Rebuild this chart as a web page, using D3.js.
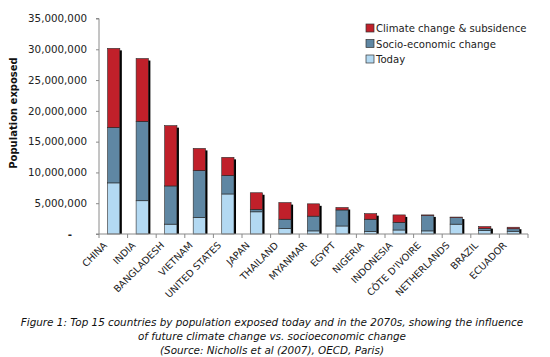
<!DOCTYPE html>
<html>
<head>
<meta charset="utf-8">
<script src="https://cdn.jsdelivr.net/npm/d3@7"></script>
<style>
  html, body { margin: 0; padding: 0; background: #fff; }
  svg { display: block; font-family: "DejaVu Sans", Verdana, sans-serif; }
</style>
</head>
<body>
<svg id="chart" width="550" height="357"></svg>
<script>
const countries = ["CHINA","INDIA","BANGLADESH","VIETNAM","UNITED STATES","JAPAN","THAILAND","MYANMAR","EGYPT","NIGERIA","INDONESIA","CÔTE D'IVOIRE","NETHERLANDS","BRAZIL","ECUADOR"];
// cumulative levels (stack tops), millions
const today        = [8.3, 5.4, 1.6, 2.7, 6.5, 3.6, 0.9, 0.5, 1.3, 0.4, 0.65, 0.5, 1.6, 0.55, 0.45];
const socioTop     = [17.3, 18.3, 7.8, 10.3, 9.5, 4.0, 2.4, 2.9, 3.9, 2.4, 1.9, 3.0, 2.65, 0.9, 0.85];
const climateTop   = [30.15, 28.5, 17.6, 13.9, 12.45, 6.7, 5.1, 4.9, 4.3, 3.3, 3.1, 3.1, 2.75, 1.2, 1.1];
const seriesNames  = ["Climate change & subsidence", "Socio-economic change", "Today"];
const seriesColors = ["#C0202A", "#5F87A3", "#B3D9F2"];
const yTicks = [0, 5, 10, 15, 20, 25, 30, 35];
const captionLines = [
  "Figure 1: Top 15 countries by population exposed today and in the 2070s, showing the influence",
  "of future climate change vs. socioeconomic change",
  "(Source: Nicholls et al (2007), OECD, Paris)"
];

const M = 1e6;
const svg = d3.select("#chart");
const x0 = 99, x1 = 528, yBase = 234, yTop = 18.5;

const x = d3.scaleBand().domain(countries).range([x0, x1]).paddingInner(0.57).paddingOuter(0.3);
const y = d3.scaleLinear().domain([0, 35 * M]).range([yBase, yTop]);

const rows = countries.map((c, i) => ({
  c,
  segs: [
    [0, today[i], 2],
    [today[i], socioTop[i], 1],
    [socioTop[i], climateTop[i], 0]
  ]
}));

// shadows
svg.append("g").selectAll("rect").data(rows).join("rect")
  .attr("x", d => x(d.c) + 2)
  .attr("y", (d, i) => y(climateTop[i] * M) + 2)
  .attr("width", x.bandwidth())
  .attr("height", (d, i) => yBase - y(climateTop[i] * M) - 2)
  .attr("fill", "#000");

// segments
const g = svg.append("g");
rows.forEach(r => {
  g.selectAll(null).data(r.segs.filter(s => s[1] > s[0])).join("rect")
    .attr("x", x(r.c))
    .attr("y", s => y(s[1] * M))
    .attr("width", x.bandwidth())
    .attr("height", s => y(s[0] * M) - y(s[1] * M))
    .attr("fill", s => seriesColors[s[2]])
    .attr("stroke", "#2a2a2a")
    .attr("stroke-width", 0.6);
});

// y axis
const yAxis = d3.axisLeft(y).tickValues(yTicks.map(v => v * M)).tickSize(3).tickPadding(9)
  .tickFormat(v => v === 0 ? "-" : d3.format(",")(v));
const ya = svg.append("g").attr("transform", `translate(${x0},0)`).call(yAxis);
ya.select(".domain").attr("stroke", "#8a8a8a").attr("d", `M-3,${yTop}H0V${yBase}H-3`);
ya.selectAll(".tick line").attr("stroke", "#8a8a8a");
ya.selectAll(".tick text").attr("font-size", 10.3).attr("fill", "#222").attr("font-family", "DejaVu Sans, Verdana, sans-serif");
ya.selectAll(".tick text").filter(v => v === 0).attr("dx", -15).attr("font-weight", "bold");

// x axis line and ticks at band boundaries
const xa = svg.append("g");
xa.append("line").attr("x1", x0).attr("x2", x1).attr("y1", yBase).attr("y2", yBase).attr("stroke", "#8a8a8a");
const bounds = d3.range(countries.length + 1).map(i => x0 + (x1 - x0) * i / countries.length);
xa.selectAll("line.t").data(bounds).join("line").attr("class", "t")
  .attr("x1", d => d).attr("x2", d => d).attr("y1", yBase).attr("y2", yBase + 4)
  .attr("stroke", "#8a8a8a");

// x labels
svg.append("g").selectAll("text").data(countries).join("text")
  .attr("transform", d => `translate(${x(d) + x.bandwidth() / 2 - 6},${yBase + 12}) rotate(-45)`)
  .attr("text-anchor", "end")
  .attr("font-size", 9.6)
  .attr("fill", "#222")
  .text(d => d);

// y title
svg.append("text")
  .attr("transform", "translate(17,113) rotate(-90)")
  .attr("text-anchor", "middle")
  .attr("font-size", 10)
  .attr("font-weight", "bold")
  .attr("fill", "#111")
  .text("Population exposed");

// legend
const lg = svg.append("g").attr("transform", "translate(366,24)");
seriesNames.forEach((n, i) => {
  const row = lg.append("g").attr("transform", `translate(0,${i * 15.5})`);
  row.append("rect").attr("x", 0).attr("y", 0).attr("width", 8).attr("height", 8)
    .attr("fill", seriesColors[i]).attr("stroke", "#333").attr("stroke-width", 0.7);
  row.append("text").attr("x", 10).attr("y", 8).attr("font-size", 10.1).attr("fill", "#222").text(n);
});

// caption
svg.append("g").selectAll("text").data(captionLines).join("text")
  .attr("x", 272)
  .attr("y", (d, i) => 326 + i * 14)
  .attr("text-anchor", "middle")
  .attr("font-size", 10.4)
  .attr("font-style", "italic")
  .attr("fill", "#111")
  .text(d => d);
</script>
</body>
</html>
